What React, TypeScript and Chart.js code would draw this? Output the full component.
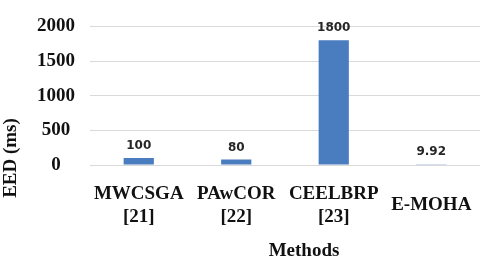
import React, { useEffect, useRef } from "react";
import { Chart, registerables } from "chart.js";

Chart.register(...registerables);

const categories: string[][] = [["MWCSGA", "[21]"], ["PAwCOR", "[22]"], ["CEELBRP", "[23]"], ["E-MOHA"]];
const eedValues: number[] = [100, 80, 1800, 9.92];
const valueLabels: string[] = ["100", "80", "1800", "9.92"];
const yTicks: number[] = [0, 500, 1000, 1500, 2000];
const xTitle = "Methods";
const yTitle = "EED (ms)";

const SERIF = '"Liberation Serif", "Times New Roman", serif';

const labelPlugin = {
  id: "valueLabels",
  afterDatasetsDraw(chart: any) {
    const ctx = chart.ctx;
    const meta = chart.getDatasetMeta(0);
    ctx.save();
    ctx.font = 'bold 12px "DejaVu Sans", sans-serif';
    ctx.fillStyle = "#262626";
    ctx.textAlign = "center";
    ctx.textBaseline = "bottom";
    meta.data.forEach((bar: any, i: number) => {
      ctx.fillText(valueLabels[i], bar.x, bar.y - 6);
    });
    ctx.restore();
  },
};

const titlePlugin = {
  id: "axisTitles",
  afterDraw(chart: any) {
    const ctx = chart.ctx;
    const area = chart.chartArea;
    ctx.save();
    ctx.font = `bold 19px ${SERIF}`;
    ctx.fillStyle = "#111";
    ctx.textAlign = "center";
    ctx.textBaseline = "middle";
    ctx.fillText(xTitle, (area.left + area.right) / 2 + 19, 251);
    ctx.translate(11, 158);
    ctx.rotate(-Math.PI / 2);
    ctx.fillText(yTitle, 0, 0);
    ctx.restore();
  },
};

export default function App() {
  const ref = useRef<HTMLCanvasElement>(null);
  useEffect(() => {
    if (!ref.current) return;
    const chart = new Chart(ref.current, {
      type: "bar",
      data: {
        labels: categories,
        datasets: [
          {
            data: eedValues,
            backgroundColor: "#4a7cc0",
            borderColor: "#4a7cc0",
            categoryPercentage: 1,
            barPercentage: 0.31,
          },
        ],
      },
      options: {
        animation: false,
        responsive: false,
        maintainAspectRatio: false,
        layout: { padding: { left: 30, right: 0, top: 23, bottom: 0 } },
        plugins: { legend: { display: false }, tooltip: { enabled: false } },
        scales: {
          x: {
            grid: { display: false },
            border: { display: false },
            ticks: {
              color: "#111",
              font: { family: SERIF, size: 19, weight: "bold", lineHeight: 1.2 },
              padding: 21,
              maxRotation: 0,
              autoSkip: false,
              crossAlign: "center",
            },
            afterFit: (scale: any) => {
              scale.height = 96;
              scale.paddingLeft = 0;
              scale.paddingRight = 0;
            },
          },
          y: {
            min: 0,
            max: 2000,
            afterBuildTicks: (scale: any) => {
              scale.ticks = yTicks.map((v) => ({ value: v }));
            },
            grid: { color: "#d9d9d9", lineWidth: 1, drawTicks: false },
            border: { display: false },
            ticks: {
              color: "#111",
              font: { family: SERIF, size: 19, weight: "bold" },
              padding: 15,
              crossAlign: "center",
              callback: (v: any) => String(v),
            },
            afterFit: (scale: any) => {
              scale.width = 60;
            },
          },
        },
      },
      plugins: [labelPlugin, titlePlugin],
    });
    return () => chart.destroy();
  }, []);
  return (
    <div style={{ position: "fixed", left: 0, top: 0, width: 480, height: 261, background: "#fff" }}>
      <canvas ref={ref} width={480} height={261} style={{ width: 480, height: 261 }} />
    </div>
  );
}
